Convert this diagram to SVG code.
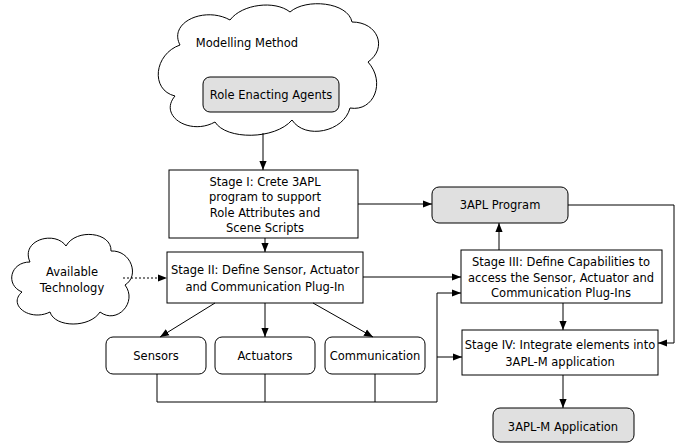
<svg xmlns="http://www.w3.org/2000/svg" width="678" height="444" viewBox="0 0 678 444">
<style>
text{font-family:"DejaVu Sans",Verdana,sans-serif;font-size:11.5px;fill:#000;text-anchor:middle}
.box{fill:#fff;stroke:#000;stroke-width:1}
.gray{fill:#e0e0e0;stroke:#000;stroke-width:1}
.cloud{fill:#fff;stroke:#000;stroke-width:1}
.c{fill:none;stroke:#000;stroke-width:1}
.a{marker-end:url(#ah)}
.dot{stroke-dasharray:2,2}
</style>
<defs>
<marker id="ah" viewBox="0 0 10 10" refX="10" refY="5" markerWidth="9" markerHeight="9" markerUnits="userSpaceOnUse" orient="auto">
<path d="M0,1 L10,5 L0,9 Z" fill="#000"/>
</marker>
</defs>
<rect width="678" height="444" fill="#fff"/>
<g id="modelling-method">
<path class="cloud" d="M180,45 C168,22 205,6 230,20 C242,4 275,0 290,12 C306,-2 348,2 352,22 C378,22 388,48 368,62 C386,82 374,112 350,108 C344,132 305,140 292,120 C275,140 226,140 215,122 C190,136 158,116 175,96 C150,90 154,54 180,45 Z"/>
<text x="247" y="47">Modelling Method</text>
</g>
<g id="role-enacting-agents">
<rect class="gray" x="203" y="77" width="136" height="35" rx="7"/>
<text x="271" y="99">Role Enacting Agents</text>
</g>
<g id="available-technology">
<path class="cloud" d="M30,262 C20,240 55,230 66,246 C76,228 112,232 111,251 C131,250 140,276 125,285 C138,302 117,325 100,312 C90,328 55,328 50,312 C30,322 7,305 22,292 C5,285 10,262 30,262 Z"/>
<text x="72" y="276">Available</text>
<text x="72" y="292">Technology</text>
</g>
<g id="stage1">
<rect class="box" x="169" y="170" width="189" height="68"/>
<text x="265" y="186">Stage I: Crete 3APL</text>
<text x="265" y="201">program to support</text>
<text x="265" y="217">Role Attributes and</text>
<text x="265" y="232">Scene Scripts</text>
</g>
<g id="stage2">
<rect class="box" x="167" y="252" width="196" height="51"/>
<text x="265" y="274">Stage II: Define Sensor, Actuator</text>
<text x="265" y="291">and Communication Plug-In</text>
</g>
<g id="apl-program">
<rect class="gray" x="432" y="187" width="136" height="36" rx="7"/>
<text x="500" y="209">3APL Program</text>
</g>
<g id="stage3">
<rect class="box" x="461" y="250" width="201" height="53"/>
<text x="561" y="266">Stage III: Define Capabilities to</text>
<text x="561" y="282">access the Sensor, Actuator and</text>
<text x="561" y="297">Communication Plug-Ins</text>
</g>
<g id="stage4">
<rect class="box" x="462" y="330" width="196" height="45"/>
<text x="560" y="349">Stage IV: Integrate elements into</text>
<text x="560" y="366">3APL-M application</text>
</g>
<g id="aplm-application">
<rect class="gray" x="493" y="408" width="141" height="34" rx="7"/>
<text x="563" y="431">3APL-M Application</text>
</g>
<g id="sensors">
<rect class="box" x="106" y="337" width="100" height="37" rx="7"/>
<text x="156" y="360">Sensors</text>
</g>
<g id="actuators">
<rect class="box" x="215" y="337" width="100" height="37" rx="7"/>
<text x="265" y="360">Actuators</text>
</g>
<g id="communication">
<rect class="box" x="325" y="337" width="100" height="37" rx="7"/>
<text x="375" y="360">Communication</text>
</g>
<g id="connectors">
<path class="c a" d="M263,133 L263,170"/>
<path class="c a" d="M265,238 L265,252"/>
<path class="c a" d="M358,204 L432,204"/>
<path class="c a" d="M363,277 L461,277"/>
<path class="c a" d="M499,250 L499,223"/>
<path class="c a" d="M568,205 L674,205 L674,343 L658,343"/>
<path class="c a" d="M563,303 L563,330"/>
<path class="c a" d="M563,375 L563,408"/>
<path class="c a dot" d="M123,278 L167,278"/>
<path class="c a" d="M215,303 L160,337"/>
<path class="c a" d="M265,303 L265,337"/>
<path class="c a" d="M313,303 L373,337"/>
<path class="c" d="M157,374 L157,402 L437,402"/>
<path class="c" d="M265,374 L265,402"/>
<path class="c" d="M375,374 L375,402"/>
<path class="c a" d="M437,402 L437,293 L461,293"/>
<path class="c a" d="M437,357 L462,357"/>
</g>
</svg>
